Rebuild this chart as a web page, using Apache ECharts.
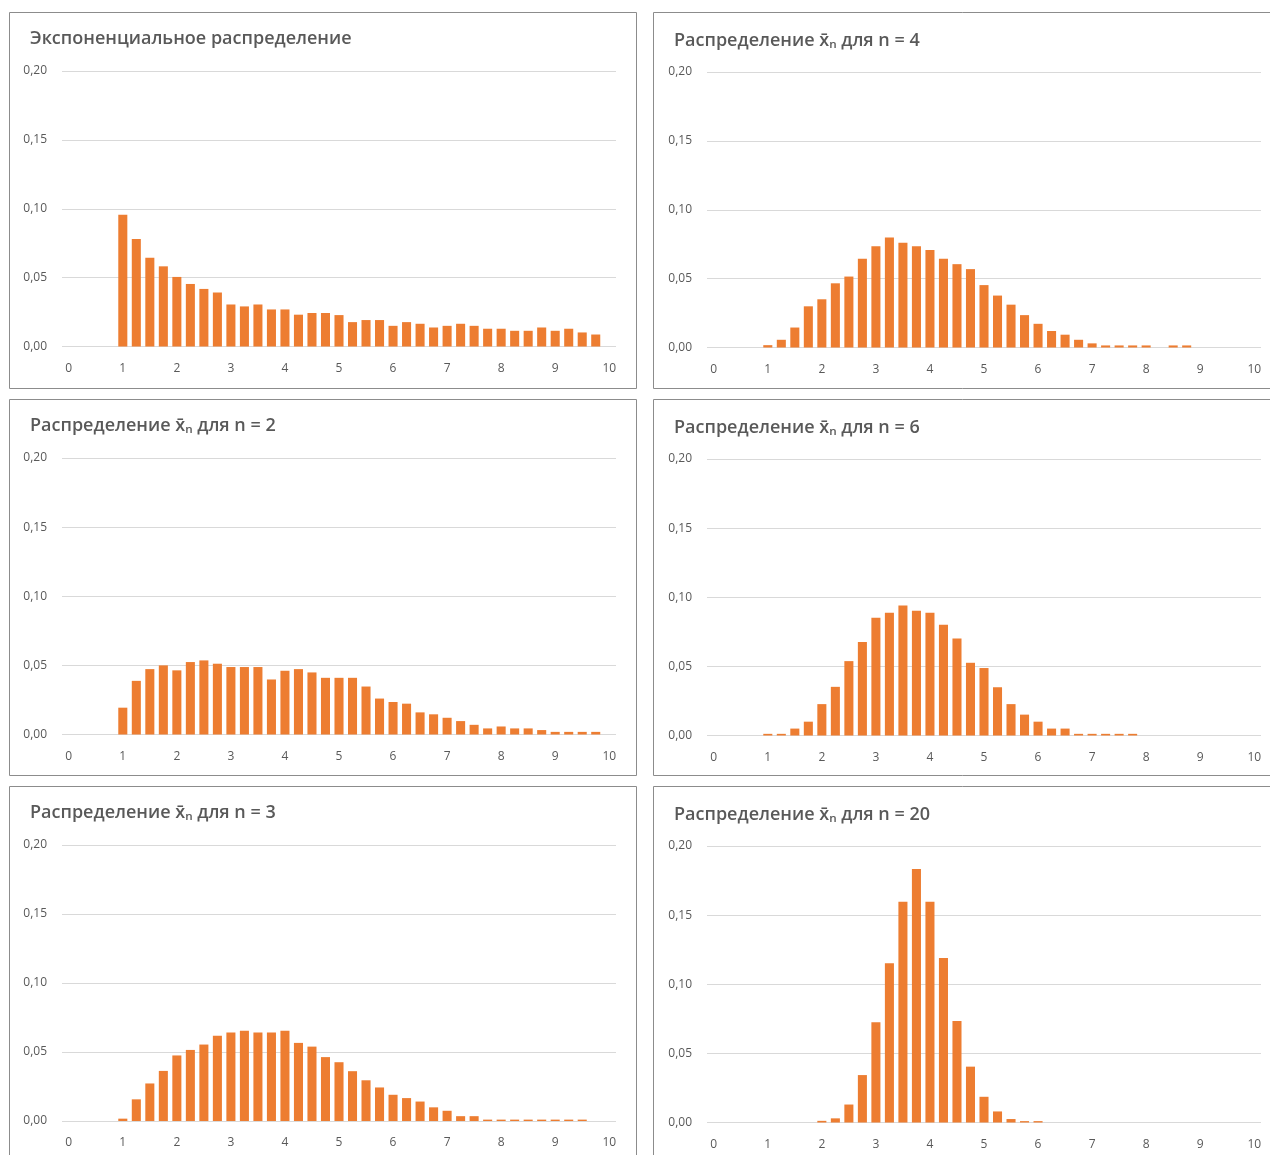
<!DOCTYPE html>
<html><head><meta charset="utf-8">
<script src="https://cdn.jsdelivr.net/npm/echarts@6/dist/echarts.min.js"></script>
<style>html,body{margin:0;padding:0;background:#fff}#c{width:1270px;height:1155px}</style>
</head><body><div id="c"></div>
<script>
const categories = ['0','0.25','0.5','0.75','1','1.25','1.5','1.75','2','2.25','2.5','2.75','3','3.25','3.5','3.75','4','4.25','4.5','4.75','5','5.25','5.5','5.75','6','6.25','6.5','6.75','7','7.25','7.5','7.75','8','8.25','8.5','8.75','9','9.25','9.5','9.75','10'];
const yTicks = [0, 0.05, 0.10, 0.15, 0.20];

const titles = [
  'Экспоненциальное распределение',
  'Распределение x̄ₙ для n = 4',
  'Распределение x̄ₙ для n = 2',
  'Распределение x̄ₙ для n = 6',
  'Распределение x̄ₙ для n = 3',
  'Распределение x̄ₙ для n = 20'
];

const expDist = [0,0,0,0, 0.0957,0.0781,0.0644,0.0582, 0.0505,0.0454,0.0418,0.0392, 0.0305,0.0291,0.0305,0.0269, 0.0269,0.0231,0.0243,0.0243, 0.0228,0.0177,0.0192,0.0192, 0.0150,0.0177,0.0165,0.0138, 0.0150,0.0165,0.0150,0.0129, 0.0129,0.0114,0.0114,0.0138, 0.0114,0.0129,0.0102,0.0087, 0];
const mean4 = [0,0,0,0, 0.0017,0.0056,0.0145,0.0299, 0.0350,0.0466,0.0515,0.0645, 0.0735,0.0799,0.0760,0.0735, 0.0708,0.0645,0.0605,0.0569, 0.0453,0.0377,0.0311,0.0235, 0.0172,0.0120,0.0093,0.0056, 0.0030,0.0015,0.0015,0.0015, 0.0015,0,0.0015,0.0015, 0,0,0,0, 0];
const mean2 = [0,0,0,0, 0.0194,0.0388,0.0473,0.0500, 0.0464,0.0524,0.0536,0.0512, 0.0488,0.0488,0.0488,0.0398, 0.0461,0.0473,0.0449,0.0410, 0.0410,0.0410,0.0347,0.0260, 0.0235,0.0223,0.0160,0.0146, 0.0121,0.0097,0.0070,0.0044, 0.0058,0.0044,0.0044,0.0032, 0.0019,0.0019,0.0019,0.0019, 0];
const mean6 = [0,0,0,0, 0.0012,0.0012,0.0050,0.0100, 0.0227,0.0352,0.0538,0.0677, 0.0852,0.0888,0.0940,0.0902, 0.0888,0.0801,0.0701,0.0526, 0.0488,0.0349,0.0227,0.0151, 0.0100,0.0050,0.0050,0.0012, 0.0012,0.0012,0.0012,0.0012, 0,0,0,0, 0,0,0,0, 0];
const mean3 = [0,0,0,0, 0.0017,0.0157,0.0272,0.0363, 0.0475,0.0515,0.0554,0.0618, 0.0642,0.0654,0.0642,0.0642, 0.0654,0.0566,0.0539,0.0463, 0.0426,0.0361,0.0295,0.0243, 0.0190,0.0166,0.0141,0.0099, 0.0074,0.0035,0.0035,0.0010, 0.0010,0.0010,0.0010,0.0010, 0.0010,0.0010,0.0010,0, 0];
const mean20 = [0,0,0,0, 0,0,0,0, 0.0012,0.0030,0.0130,0.0343, 0.0725,0.1152,0.1597,0.1833, 0.1597,0.1190,0.0734,0.0404, 0.0186,0.0080,0.0025,0.0010, 0.0010,0,0,0, 0,0,0,0, 0,0,0,0, 0,0,0,0, 0];

const seriesData = [expDist, mean4, mean2, mean6, mean3, mean20];

// layout: panel boxes and plot areas (pixels)
const panels = [
  {bx:9,   by:12,  gl:62,  gt:71,  gb:346.5, ty:30},
  {bx:653, by:12,  gl:707, gt:72,  gb:347.5, ty:32},
  {bx:9,   by:399, gl:62,  gt:458, gb:734.5, ty:417},
  {bx:653, by:399, gl:707, gt:459, gb:735.5, ty:419},
  {bx:9,   by:786, gl:62,  gt:845, gb:1121,  ty:804},
  {bx:653, by:786, gl:707, gt:846, gb:1122.5, ty:806}
];
const PW = 627, PH = 376, GW = 554;
const FONT = '"Open Sans", "DejaVu Sans", sans-serif';
const textGray = '#595959';

const option = {
  animation: false,
  backgroundColor: '#fff',
  title: panels.map((p, i) => ({
    text: titles[i],
    left: p.bx + 21, top: p.ty, padding: 0,
    textStyle: {fontFamily: FONT, fontSize: 18, fontWeight: 600, color: textGray}
  })),
  grid: panels.map(p => ({left: p.gl, top: p.gt, width: GW, height: p.gb - p.gt, containLabel: false})),
  xAxis: panels.map((p, i) => ({
    type: 'category', gridIndex: i, data: categories, boundaryGap: true,
    axisLine: {show: false}, axisTick: {show: false},
    axisLabel: {interval: 3, margin: 16, color: textGray, fontFamily: FONT, fontSize: 12}
  })),
  yAxis: panels.map((p, i) => ({
    type: 'value', gridIndex: i, min: yTicks[0], max: yTicks[yTicks.length - 1], interval: 0.05,
    axisLine: {show: false}, axisTick: {show: false},
    splitLine: {lineStyle: {color: '#d9d9d9', width: 1}},
    axisLabel: {margin: 15, color: textGray, fontFamily: FONT, fontSize: 12,
      formatter: v => v.toFixed(2).replace('.', ',')}
  })),
  series: seriesData.map((d, i) => ({
    type: 'bar', xAxisIndex: i, yAxisIndex: i, data: d,
    barCategoryGap: '33%', itemStyle: {color: '#ed7d31'}
  })),
  graphic: panels.map(p => ({
    type: 'rect', shape: {x: p.bx + 0.5, y: p.by + 0.5, width: PW, height: PH},
    style: {fill: 'none', stroke: '#8c8c8c', lineWidth: 1}, z: 100, silent: true
  }))
};
const chart = echarts.init(document.getElementById('c'), null, {renderer: 'canvas'});
chart.setOption(option);
</script></body></html>
